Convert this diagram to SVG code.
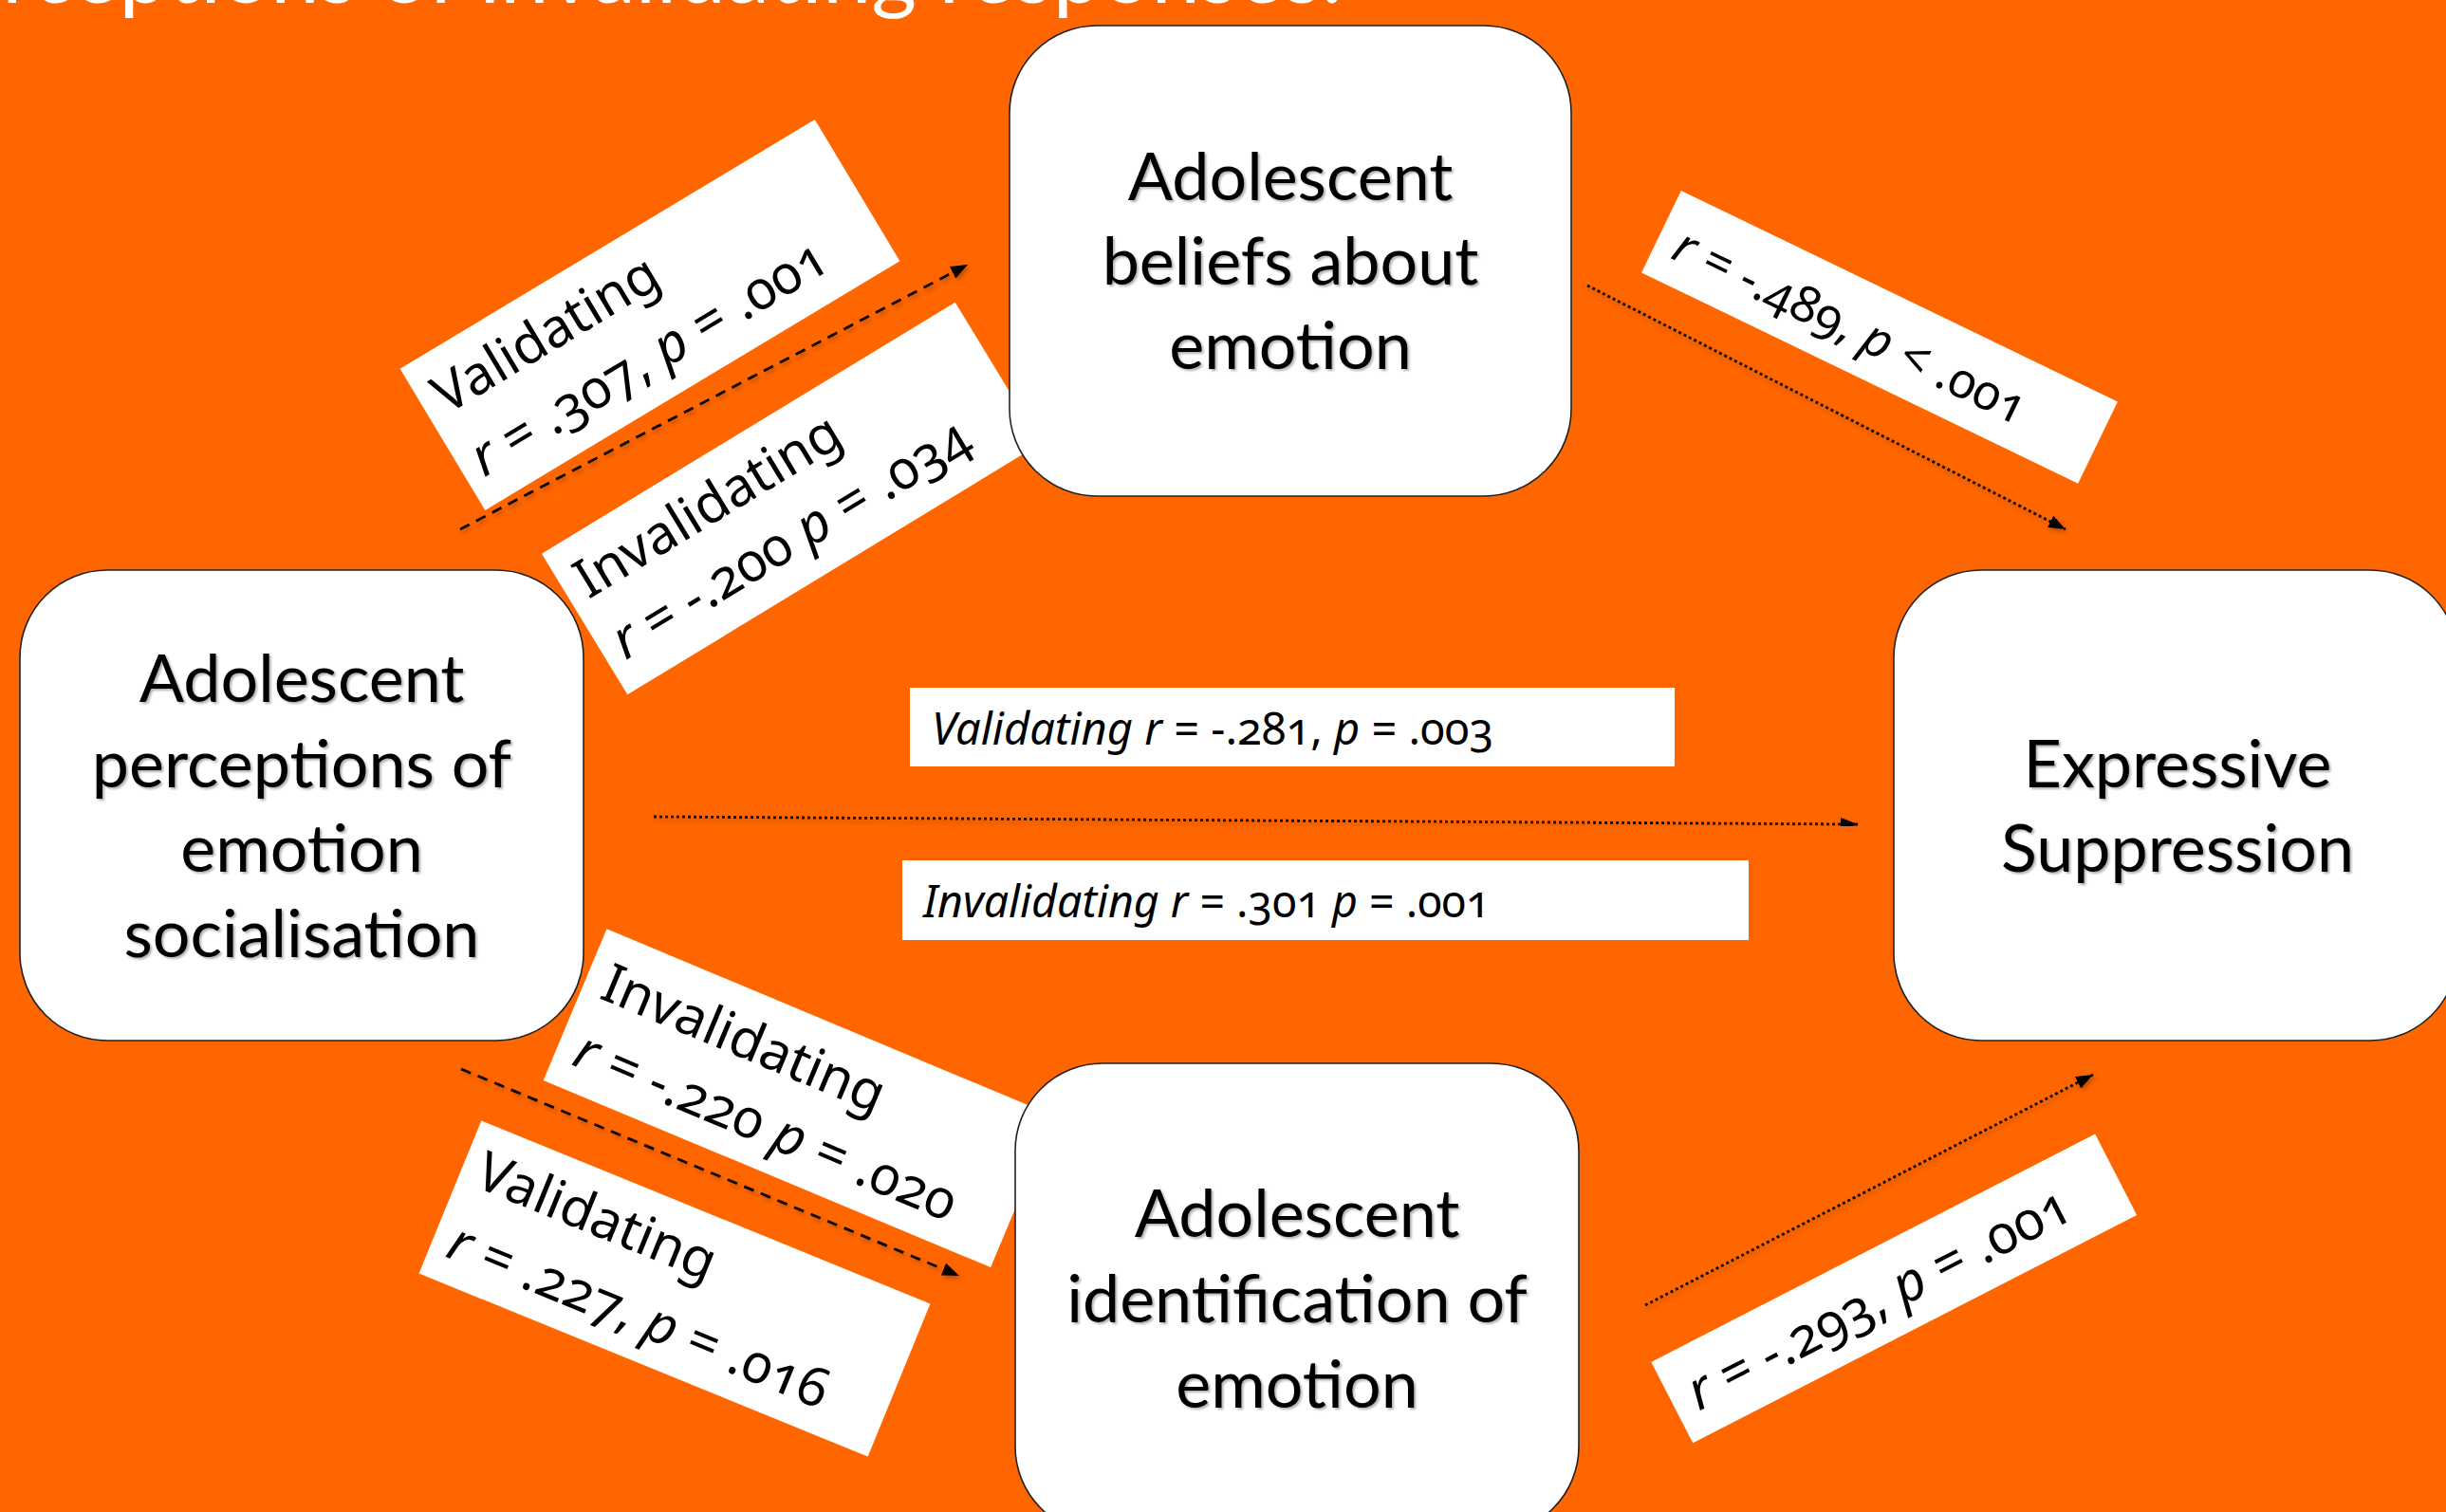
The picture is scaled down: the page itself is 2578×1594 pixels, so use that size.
<svg xmlns="http://www.w3.org/2000/svg" width="2578" height="1594" viewBox="0 0 2578 1594">
  <defs>
    <style>
      .bg { fill: #FF6600; }
      .title { font-family: Lato, "Liberation Sans", sans-serif; font-size: 92px; fill: #FFFFFF; }
      .node rect { fill: #FFFFFF; stroke: #222222; stroke-width: 1.6; }
      .node text { font-family: Lato, "Noto Sans", "Liberation Sans", sans-serif; font-size: 70px; fill: #000000; text-anchor: middle; filter: url(#tshadow); }
      .lbl rect { fill: #FFFFFF; }
      .lbl text { font-family: "Noto Sans", "Open Sans", sans-serif; font-size: 57px; fill: #000000; font-variant-numeric: oldstyle-nums; }
      .lbl .it { font-style: italic; }
      .conn line { stroke: #000000; stroke-width: 2.8; fill: none; filter: url(#lshadow); }
      .dash { stroke-dasharray: 11 8; }
      .dot { stroke-dasharray: 3 3; }
    </style>
    <marker id="arrow" markerUnits="userSpaceOnUse" markerWidth="18" markerHeight="14" refX="18" refY="7" orient="auto">
      <path d="M0,0 L18,7 L0,14 z" fill="#000000"/>
    </marker>
    <filter id="tshadow" x="-10%" y="-10%" width="120%" height="130%">
      <feDropShadow dx="2" dy="2" stdDeviation="1.2" flood-color="#000000" flood-opacity="0.3"/>
    </filter>
    <filter id="lshadow" x="-5%" y="-20%" width="110%" height="140%">
      <feDropShadow dx="2" dy="3" stdDeviation="2" flood-color="#7a2e00" flood-opacity="0.45"/>
    </filter>
  </defs>

  <rect class="bg" x="0" y="0" width="2578" height="1594"/>

  <text class="title" x="-98" y="3">perceptions of invalidating responses.</text>

  <g id="labels">
    <g id="label-validating-beliefs" class="lbl" transform="translate(685,332) rotate(-31)">
      <rect x="-255" y="-87" width="510" height="174"/>
      <text x="-238" y="-20">Validating</text>
      <text x="-238" y="57"><tspan class="it">r</tspan> = .307, <tspan class="it">p</tspan> = .001</text>
    </g>
    <g id="label-invalidating-beliefs" class="lbl" transform="translate(834,525.5) rotate(-31.3)">
      <rect x="-255" y="-87" width="510" height="174"/>
      <text x="-238" y="-20">Invalidating</text>
      <text x="-238" y="55"><tspan class="it">r</tspan> = -.200 <tspan class="it">p</tspan> = .034</text>
    </g>
    <g id="label-beliefs-suppression" class="lbl" transform="translate(1981,355.4) rotate(25.8)">
      <rect x="-255.5" y="-48" width="511" height="96"/>
      <text x="-236" y="21" style="font-size:52px"><tspan class="it">r</tspan> = -.489, <tspan class="it">p</tspan> &lt; .001</text>
    </g>
    <g id="label-direct-validating" class="lbl">
      <rect x="959" y="725" width="806" height="83"/>
      <text x="982" y="785" style="font-size:47px"><tspan class="it">Validating r</tspan> = -.281, <tspan class="it">p</tspan> = .003</text>
    </g>
    <g id="label-direct-invalidating" class="lbl">
      <rect x="951" y="907" width="892" height="84"/>
      <text x="973" y="967" style="font-size:46.5px"><tspan class="it">Invalidating r</tspan> = .301 <tspan class="it">p</tspan> = .001</text>
    </g>
    <g id="label-invalidating-identification" class="lbl" transform="translate(841.8,1157.7) rotate(22.7)">
      <rect x="-255.5" y="-86.5" width="511" height="173"/>
      <text x="-236" y="-16">Invalidating</text>
      <text x="-236" y="60"><tspan class="it">r</tspan> = -.220 <tspan class="it">p</tspan> = .020</text>
    </g>
    <g id="label-validating-identification" class="lbl" transform="translate(711,1358.5) rotate(22.2)">
      <rect x="-255.5" y="-87" width="511" height="174"/>
      <text x="-238" y="-20">Validating</text>
      <text x="-238" y="60"><tspan class="it">r</tspan> = .227, <tspan class="it">p</tspan> = .016</text>
    </g>
    <g id="label-identification-suppression" class="lbl" transform="translate(1996.2,1358.4) rotate(-27.2)">
      <rect x="-263" y="-48" width="526" height="96"/>
      <text x="-242" y="21"><tspan class="it">r</tspan> = -.293, <tspan class="it">p</tspan> = .001</text>
    </g>
  </g>

  <g id="connectors" class="conn">
    <line class="dash" x1="485" y1="558" x2="1020" y2="279" marker-end="url(#arrow)"/>
    <line class="dot" x1="1673" y1="301" x2="2177" y2="558" marker-end="url(#arrow)"/>
    <line class="dot" x1="689" y1="861" x2="1958" y2="869" marker-end="url(#arrow)"/>
    <line class="dash" x1="486" y1="1127" x2="1011" y2="1345" marker-end="url(#arrow)"/>
    <line class="dot" x1="1734" y1="1376" x2="2206" y2="1133" marker-end="url(#arrow)"/>
  </g>

  <g id="node-socialisation" class="node">
    <rect x="21" y="601" width="594" height="496" rx="92" ry="92"/>
    <text x="318" y="740">Adolescent</text>
    <text x="318" y="830">perceptions of</text>
    <text x="318" y="919">emotion</text>
    <text x="318" y="1009">socialisation</text>
  </g>

  <g id="node-beliefs" class="node">
    <rect x="1064" y="27" width="592" height="496" rx="92" ry="92"/>
    <text x="1360" y="211">Adolescent</text>
    <text x="1360" y="300">beliefs about</text>
    <text x="1360" y="389">emotion</text>
  </g>

  <g id="node-identification" class="node">
    <rect x="1070" y="1121" width="594" height="496" rx="92" ry="92"/>
    <text x="1367" y="1304">Adolescent</text>
    <text x="1367" y="1394">identification of</text>
    <text x="1367" y="1484">emotion</text>
  </g>

  <g id="node-suppression" class="node">
    <rect x="1996" y="601" width="594" height="496" rx="92" ry="92"/>
    <text x="2295" y="830">Expressive</text>
    <text x="2295" y="919">Suppression</text>
  </g>
</svg>
